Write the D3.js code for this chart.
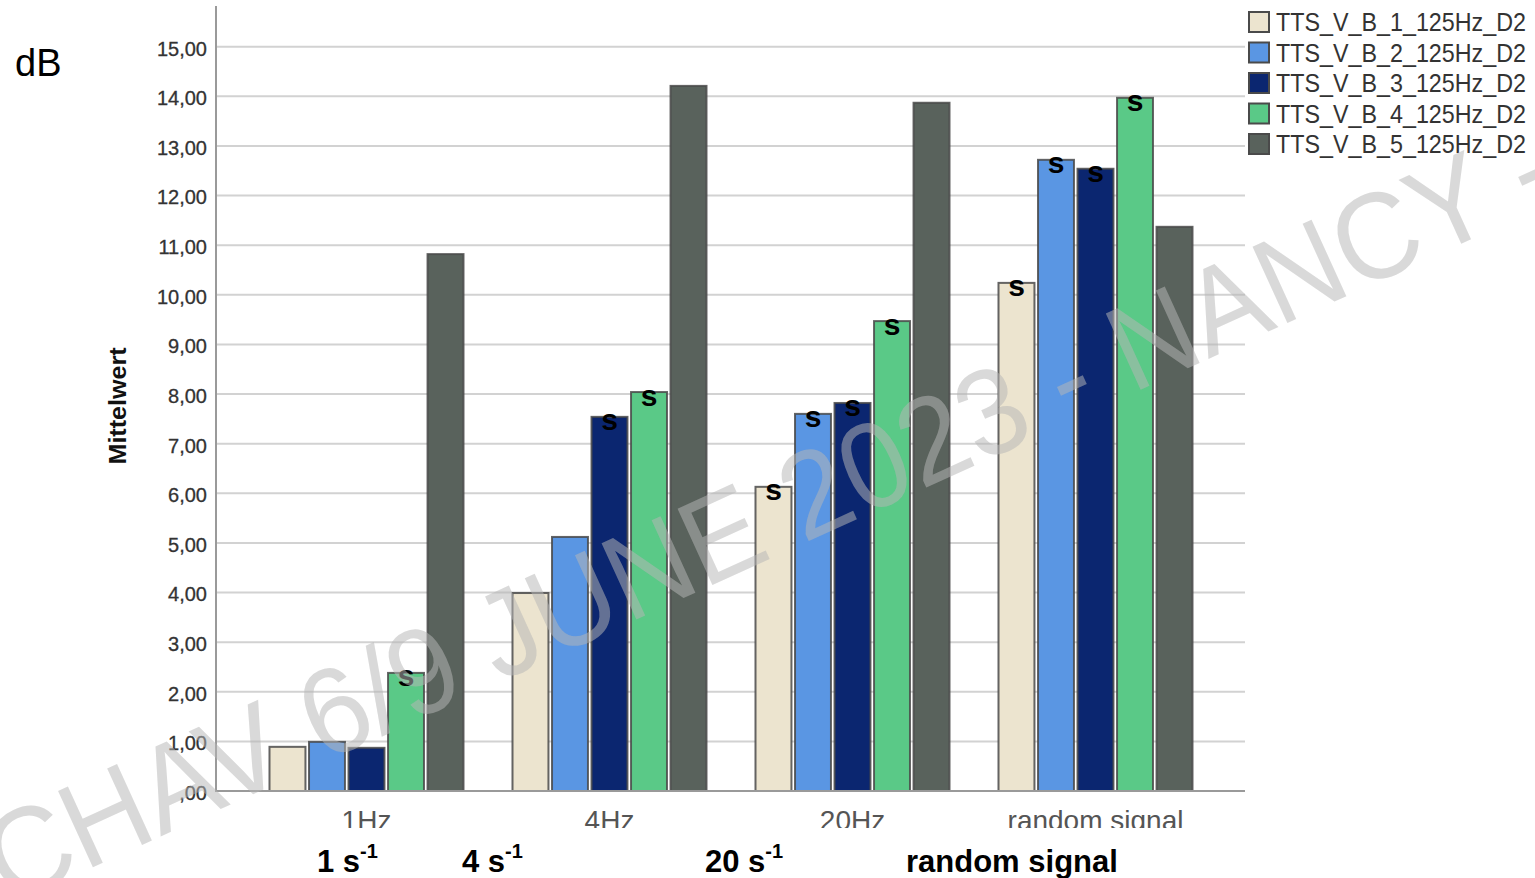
<!DOCTYPE html>
<html>
<head>
<meta charset="utf-8">
<script src="https://cdn.jsdelivr.net/npm/d3@7"></script>
<style>
html,body{margin:0;padding:0;background:#fff;}
svg{display:block;}
</style>
</head>
<body>
<svg id="chart" width="1535" height="878"></svg>
<script>
// ---- data ----
const categories = ["1Hz", "4Hz", "20Hz", "random signal"];
const seriesNames = ["TTS_V_B_1_125Hz_D2", "TTS_V_B_2_125Hz_D2", "TTS_V_B_3_125Hz_D2", "TTS_V_B_4_125Hz_D2", "TTS_V_B_5_125Hz_D2"];
const seriesColors = ["#ece4cf", "#5a96e3", "#0b2670", "#5ac987", "#59625c"];
const s1 = [0.89, 3.99, 6.13, 10.24];
const s2 = [0.99, 5.12, 7.60, 12.72];
const s3 = [0.87, 7.54, 7.82, 12.54];
const s4 = [2.38, 8.04, 9.47, 13.97];
const s5 = [10.82, 14.21, 13.87, 11.37];
// significance markers ("s"), per series per category
const sig1 = [false, false, true, true];
const sig2 = [false, false, true, true];
const sig3 = [false, true, true, true];
const sig4 = [true, true, true, true];
const sig5 = [false, false, false, false];
const yTicks = [0,1,2,3,4,5,6,7,8,9,10,11,12,13,14,15];
const yTickLabels = [",00","1,00","2,00","3,00","4,00","5,00","6,00","7,00","8,00","9,00","10,00","11,00","12,00","13,00","14,00","15,00"];
const yTitle = "Mittelwert";
const unitLabel = "dB";
const bottomLabels = [["1 s", "-1"], ["4 s", "-1"], ["20 s", "-1"], ["random signal", ""]];
const watermarkText = "CHAV 6/9 JUNE 2023 - NANCY -";

// ---- layout ----
const bottomLabelX = [317, 462, 705, 906];
const values = [s1, s2, s3, s4, s5];
const sigs = [sig1, sig2, sig3, sig4, sig5];

const svg = d3.select("#chart");
const plotLeft = 216, plotRight = 1245, baseY = 791, topY = 6;

const y = d3.scaleLinear().domain([0, 15.82]).range([baseY, topY]);
const x0 = d3.scaleBand().domain(categories).range([245, 1217]).paddingInner(0.187).paddingOuter(0.0935);
const x1 = d3.scaleBand().domain(d3.range(seriesNames.length)).range([0, x0.bandwidth()]).paddingInner(0.09).paddingOuter(0.045);

// gridlines
svg.append("g").selectAll("line").data(yTicks.filter(d => d > 0)).join("line")
  .attr("x1", plotLeft).attr("x2", plotRight)
  .attr("y1", d => y(d)).attr("y2", d => y(d))
  .attr("stroke", "#d2d2d2").attr("stroke-width", 2);

// y axis tick labels
const yAxis = d3.axisLeft(y).tickValues(yTicks).tickSize(0).tickPadding(9)
  .tickFormat((d, i) => yTickLabels[i]);
const yg = svg.append("g").attr("transform", `translate(${plotLeft},0)`).call(yAxis);
yg.select(".domain").remove();
yg.selectAll("text").attr("font-family", "Liberation Sans, Arial, sans-serif")
  .attr("font-size", 20).attr("fill", "#333").attr("stroke", "#333").attr("stroke-width", 0.3)
  .attr("dy", "0.42em");

// bars
const flat = [];
categories.forEach((c, ci) => seriesNames.forEach((s, si) => flat.push({c, ci, si, v: values[si][ci], sig: sigs[si][ci]})));
svg.append("g").selectAll("rect").data(flat).join("rect")
  .attr("x", d => x0(d.c) + x1(d.si))
  .attr("y", d => y(d.v))
  .attr("width", x1.bandwidth())
  .attr("height", d => y(0) - y(d.v))
  .attr("fill", d => seriesColors[d.si])
  .attr("stroke", "#4a4a4a").attr("stroke-opacity", 0.85).attr("stroke-width", 2);

// axis lines
svg.append("line").attr("x1", plotLeft).attr("x2", plotLeft).attr("y1", topY).attr("y2", baseY + 1)
  .attr("stroke", "#9a9a9a").attr("stroke-width", 2);
svg.append("line").attr("x1", plotLeft).attr("x2", plotRight).attr("y1", baseY).attr("y2", baseY)
  .attr("stroke", "#9a9a9a").attr("stroke-width", 2);

// significance markers
svg.append("g").selectAll("text").data(flat.filter(d => d.sig)).join("text")
  .attr("x", d => x0(d.c) + x1(d.si) + x1.bandwidth() / 2)
  .attr("y", d => y(d.v) + 3)
  .attr("text-anchor", "middle").attr("dominant-baseline", "central")
  .attr("font-family", "Liberation Sans Narrow, Liberation Sans, Arial, sans-serif")
  .attr("font-weight", "bold").attr("font-size", 30).attr("fill", "#000")
  .text("s");

// category labels (clipped at bottom like the reference)
svg.append("clipPath").attr("id", "catclip").append("rect")
  .attr("x", 0).attr("y", 795).attr("width", 1535).attr("height", 33);
svg.append("g").attr("clip-path", "url(#catclip)").selectAll("text").data(categories).join("text")
  .attr("x", d => x0(d) + x0.bandwidth() / 2)
  .attr("y", 830)
  .attr("text-anchor", "middle")
  .attr("font-family", "Liberation Sans, Arial, sans-serif")
  .attr("font-size", 28).attr("fill", "#555")
  .text(d => d);

// y title
svg.append("text")
  .attr("transform", "translate(126,406) rotate(-90)")
  .attr("text-anchor", "middle")
  .attr("font-family", "Liberation Sans, Arial, sans-serif")
  .attr("font-weight", "bold").attr("font-size", 23).attr("fill", "#111")
  .attr("textLength", 117).attr("lengthAdjust", "spacingAndGlyphs")
  .text(yTitle);

// unit label
svg.append("text").attr("x", 15).attr("y", 76)
  .attr("font-family", "Liberation Sans, Arial, sans-serif")
  .attr("font-size", 38).attr("fill", "#000")
  .text(unitLabel);

// legend
const lg = svg.append("g").attr("transform", "translate(1248,11)");
const li = lg.selectAll("g").data(seriesNames).join("g")
  .attr("transform", (d, i) => `translate(0,${i * 30.5})`);
li.append("rect").attr("x", 1).attr("y", 1).attr("width", 20).attr("height", 20)
  .attr("fill", (d, i) => seriesColors[i]).attr("stroke", "#4a4a4a").attr("stroke-width", 2);
li.append("text").attr("x", 28).attr("y", 20)
  .attr("font-family", "Liberation Sans, Arial, sans-serif")
  .attr("font-size", 25).attr("fill", "#333")
  .attr("textLength", 250).attr("lengthAdjust", "spacingAndGlyphs")
  .text(d => d);

// watermark
svg.append("text")
  .attr("transform", "translate(8,906) rotate(-24.5)")
  .attr("font-family", "Liberation Sans, Arial, sans-serif")
  .attr("font-size", 122).attr("fill", "rgb(182,182,182)").attr("fill-opacity", 0.52)
  .attr("textLength", 1710).attr("lengthAdjust", "spacingAndGlyphs")
  .text(watermarkText);

// bottom annotation labels
const bl = svg.append("g");
bottomLabels.forEach((lab, i) => {
  const t = bl.append("text").attr("x", bottomLabelX[i]).attr("y", 872)
    .attr("font-family", "Liberation Sans, Arial, sans-serif")
    .attr("font-weight", "bold").attr("font-size", 31).attr("fill", "#000");
  t.append("tspan").text(lab[0]);
  if (lab[1]) t.append("tspan").attr("dy", -14).attr("font-size", 20).text(lab[1]);
});
</script>
</body>
</html>
